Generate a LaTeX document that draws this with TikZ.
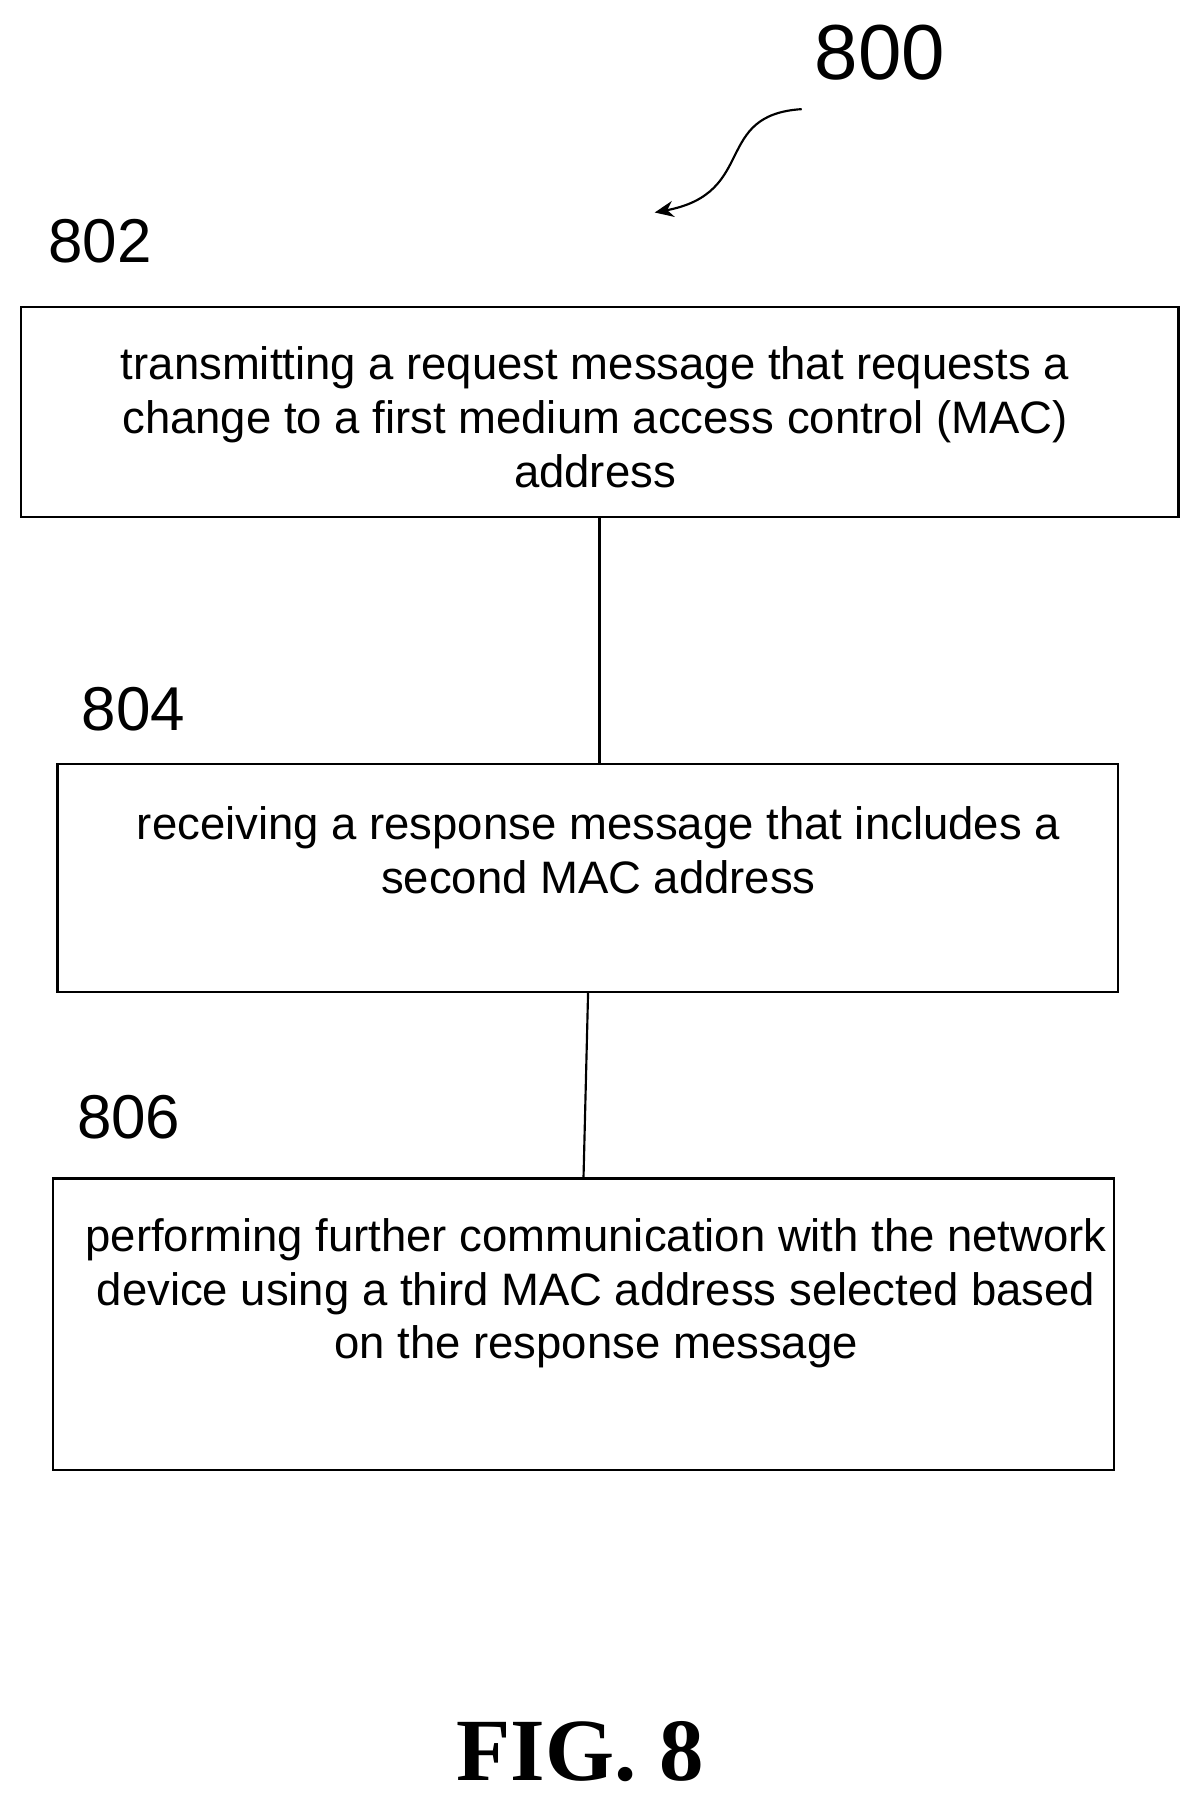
\documentclass[tikz,border=0pt]{standalone}
\usepackage{fontspec}
\usetikzlibrary{arrows.meta}
\setmainfont{Liberation Sans}
\newfontfamily\serifb{Liberation Serif}
\begin{document}
\begin{tikzpicture}[x=0.03cm,y=-0.03cm,
  box/.style={draw,line width=1.6pt,inner sep=0},
  txt/.style={font=\fontsize{33.8}{40}\selectfont,align=center,inner sep=0},
  lab/.style={font=\fontsize{46}{50}\selectfont,inner sep=0},
  conn/.style={line width=1.6pt}]
\useasboundingbox (0,0) rectangle (1045,1568);
\node[lab,font=\fontsize{58}{60}\selectfont] (n800) at (766,46) {800};
\coordinate (as) at (698,95);
\coordinate (ae) at (570,185);
\draw[line width=1.6pt,-{Stealth[length=14pt,width=12pt]}] (as) .. controls (620,100) and (660,168) .. (ae);
\node[lab] (n802) at (87,210) {802};
\node[box,minimum width=1008*0.03cm,minimum height=183*0.03cm] (b802) at (522,358.5) {};
\node[txt] (t802) at (518,363) {transmitting a request message that requests a\\change to a first medium access control (MAC)\\address};
\node[lab] (n804) at (116,617) {804};
\node[box,minimum width=923*0.03cm,minimum height=199*0.03cm] (b804) at (511.5,764.5) {};
\node[txt] (t804) at (521,740) {receiving a response message that includes a\\second MAC address};
\node[lab] (n806) at (112,973) {806};
\node[box,minimum width=924*0.03cm,minimum height=254*0.03cm] (b806) at (508,1153) {};
\node[txt] (t806) at (519,1126) {performing further communication with the network\\device using a third MAC address selected based\\on the response message};
\node[font=\serifb\bfseries\fontsize{66}{70}\selectfont,inner sep=0] (fig) at (505,1525) {FIG. 8};
\coordinate (c1) at (522,450);
\coordinate (c2) at (522,665);
\coordinate (c3) at (512,864);
\coordinate (c4) at (508,1026);
\draw[conn] (c1) -- (c2);
\draw[conn] (c3) -- (c4);
\end{tikzpicture}
\end{document}
